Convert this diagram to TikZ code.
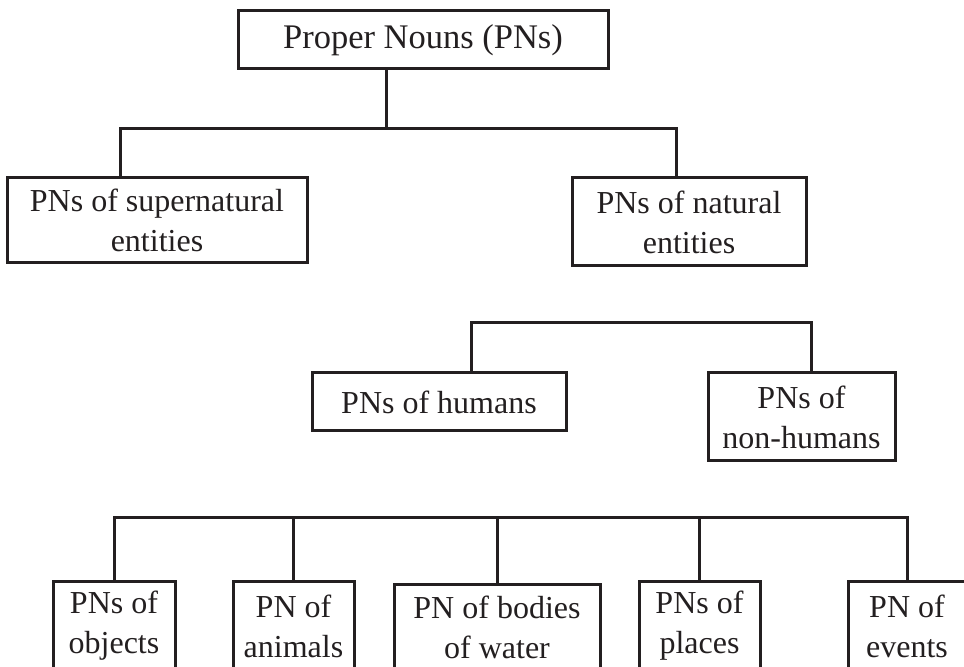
\documentclass[tikz,border=0pt]{standalone}
\usepackage{fontspec}
\setmainfont{Liberation Serif}
\usetikzlibrary{calc,positioning}
\definecolor{ink}{RGB}{35,31,32}
\tikzset{
  pnbox/.style={draw=ink, text=ink, line width=1.5pt, inner sep=0pt, align=center,
                font=\fontsize{16}{20}\selectfont},
  link/.style={draw=ink, line width=1.5pt}
}

\begin{document}
\begin{tikzpicture}[x=0.5pt,y=-0.5pt]
\useasboundingbox (0,0) rectangle (964,667);
\clip (0,0) rectangle (964,667);

\node[pnbox, minimum width=185pt, minimum height=29pt, font=\fontsize{17.25}{20}\selectfont] (root) at (423,40) {Proper Nouns (PNs)};

\node[pnbox, minimum width=150pt, minimum height=42.5pt] (super) at (157,220.5) {PNs of supernatural\\entities};
\node[pnbox, minimum width=117pt, minimum height=44pt] (natural) at (689,222) {PNs of natural\\entities};

\node[pnbox, minimum width=127pt, minimum height=29pt] (humans) at (439,402) {PNs of humans};
\node[pnbox, minimum width=93.5pt, minimum height=44pt] (nonhumans) at (801.5,417) {PNs of\\non-humans};

% bottom row
\node[pnbox, minimum width=61pt, minimum height=44pt] (objects) at (114,626) {PNs of\\objects};
\node[pnbox, minimum width=60.5pt, minimum height=44pt] (animals) at (293.5,626) {PN of\\animals};
\node[pnbox, minimum width=103pt, minimum height=42.5pt] (water) at (497,627.5) {PN of bodies\\of water};
\node[pnbox, minimum width=60.5pt, minimum height=44pt] (places) at (699.5,626) {PNs of\\places};
\node[pnbox, minimum width=59pt, minimum height=44pt] (events) at (907,626) {PN of\\events};

\coordinate (stem) at (386,129);
\coordinate (fork1) at (120,129);
\coordinate (fork2) at (676,129);
\draw[link] (root.south -| stem) -- (stem);
\draw[link] (super.north -| fork1) -- (fork1) -- (fork2) -- (natural.north -| fork2);

\coordinate (hfork1) at (471,323);
\coordinate (hfork2) at (811,323);
\draw[link] (humans.north -| hfork1) -- (hfork1) -- (hfork2) -- (nonhumans.north -| hfork2);

\coordinate (bar) at (0,518);
\draw[link] (objects.north) -- (objects.north |- bar) -- (events.north |- bar) -- (events.north);
\foreach \n in {animals,water,places}
{
\draw[link] (\n.north) -- (\n.north |- bar);
}
\end{tikzpicture}
\end{document}
